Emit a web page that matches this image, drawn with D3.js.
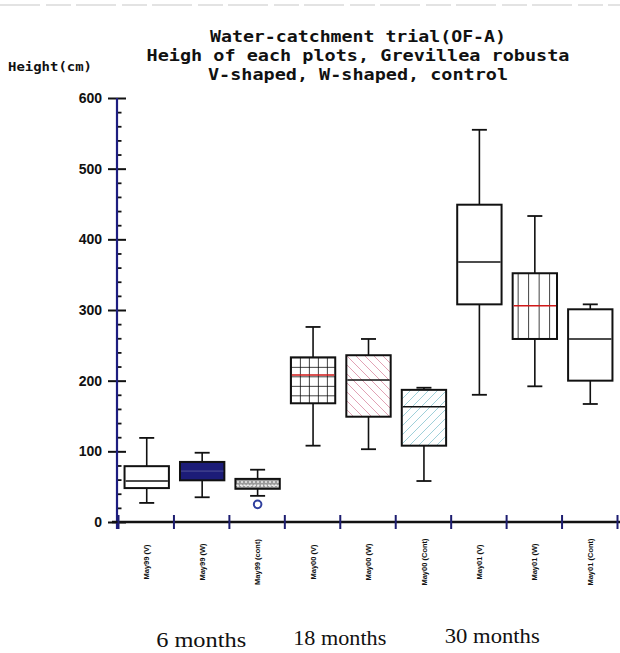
<!DOCTYPE html>
<html>
<head>
<meta charset="utf-8">
<script src="https://cdn.jsdelivr.net/npm/d3@7"></script>
<style>
  body { margin: 0; background: #fff; }
  svg { display: block; }
</style>
</head>
<body>
<svg id="chart" width="620" height="653"></svg>
<script>
// values (cm)
var categories = ["May99 (V)", "May99 (W)", "May99 (cont)",
                  "May00 (V)", "May00 (W)", "May00 (Cont)",
                  "May01 (V)", "May01 (W)", "May01 (Cont)"]
var whiskerLow  = [27, 35, 37, 108, 103, 58, 180, 192, 167]
var q1          = [48, 59, 47, 168, 149, 108, 308, 259, 200]
var median      = [58, 72, 52, 208, 201, 163, 368, 306, 259]
var q3          = [79, 85, 61, 233, 236, 187, 449, 352, 301]
var whiskerHigh = [119, 98, 74, 276, 259, 190, 555, 433, 308]
var outliers    = [{cat: "May99 (cont)", value: 25}]
var yTicks = [0, 100, 200, 300, 400, 500, 600]
var months = ["6 months", "18 months", "30 months"]
var monthAt = [1.5, 4, 6.75]   // in category units along the x axis

var titleLines = ["Water-catchment trial(OF-A)",
                  "Heigh of each plots, Grevillea robusta",
                  "V-shaped, W-shaped, control"]

var svg = d3.select("#chart")

var x = d3.scaleBand().domain(categories).range([118, 617]).padding(0)
var xi = d3.scaleLinear().domain([0, categories.length]).range([118, 617])
var y = d3.scaleLinear().domain([0, 600]).range([522, 98])

var boxW = x.bandwidth() * 0.8
var boxes = categories.map((c, i) => ({
    cat: c, lo: whiskerLow[i], q1: q1[i], med: median[i], q3: q3[i], hi: whiskerHigh[i], i: i
}))

// scan artefact along the top edge
svg.append("line").attr("x1", 0).attr("x2", 620).attr("y1", 5).attr("y2", 5)
    .attr("stroke", "#c8c8c8").attr("stroke-width", 1.2).attr("stroke-dasharray", "40,6,25,5")

// ---- patterns (one per box so they line up with the box corner)
var defs = svg.append("defs")
function boxX(d) { return x(d.cat) + (x.bandwidth() - boxW) / 2 + 1 }

function grid(id, d) {
    var p = defs.append("pattern").attr("id", id).attr("patternUnits", "userSpaceOnUse")
        .attr("x", boxX(d)).attr("y", y(d.q3)).attr("width", 9).attr("height", 9.5)
    p.append("rect").attr("width", 9).attr("height", 9.5).attr("fill", "#fff")
    p.append("line").attr("x1", 0).attr("x2", 0).attr("y1", 0).attr("y2", 9.5).attr("stroke", "#111").attr("stroke-width", 1.6)
    p.append("line").attr("x1", 0).attr("x2", 9).attr("y1", 0).attr("y2", 0).attr("stroke", "#111").attr("stroke-width", 1.6)
}
function vlines(id, d) {
    var p = defs.append("pattern").attr("id", id).attr("patternUnits", "userSpaceOnUse")
        .attr("x", boxX(d) + 5).attr("y", 0).attr("width", 10.5).attr("height", 10)
    p.append("rect").attr("width", 10.5).attr("height", 10).attr("fill", "#fff")
    p.append("line").attr("x1", 0).attr("x2", 0).attr("y1", 0).attr("y2", 10).attr("stroke", "#111").attr("stroke-width", 1.6)
}
function hatch(id, color, dir) {
    var p = defs.append("pattern").attr("id", id).attr("patternUnits", "userSpaceOnUse")
        .attr("width", 9).attr("height", 9)
    p.append("rect").attr("width", 9).attr("height", 9).attr("fill", "#fff")
    if (dir > 0) {
        p.append("path").attr("d", "M-1,10 L10,-1 M-3,3 L3,-3 M6,12 L12,6")
    } else {
        p.append("path").attr("d", "M-1,-1 L10,10 M-3,6 L3,12 M6,-3 L12,3")
    }
    p.select("path").attr("stroke", color).attr("stroke-width", 0.8)
}
function dots(id) {
    var p = defs.append("pattern").attr("id", id).attr("patternUnits", "userSpaceOnUse")
        .attr("width", 4).attr("height", 4)
    p.append("rect").attr("width", 4).attr("height", 4).attr("fill", "#9a9a9a")
    p.append("circle").attr("cx", 2).attr("cy", 2).attr("r", 0.9).attr("fill", "#f4f4f4")
}
grid("pGrid", boxes[3])
vlines("pVert", boxes[7])
hatch("pPink", "#d98aa2", -1)
hatch("pCyan", "#86c4cf", 1)
dots("pDots")

var fills = ["#fff", "#1c1c78", "url(#pDots)", "url(#pGrid)", "url(#pPink)",
             "url(#pCyan)", "#fff", "url(#pVert)", "#fff"]
var medColor = ["#111", "#3a3a8a", "#eee", "#d01818", "#111", "#111", "#111", "#d01818", "#111"]

// ---- boxes
var g = svg.append("g")
var box = g.selectAll("g.box").data(boxes).enter().append("g").attr("class", "box")

function cx(cat) { return x(cat) + x.bandwidth() / 2 + 1 }

box.append("line")
    .attr("x1", d => cx(d.cat)).attr("x2", d => cx(d.cat))
    .attr("y1", d => y(d.hi)).attr("y2", d => y(d.lo))
    .attr("stroke", "#111").attr("stroke-width", 1.6)

box.selectAll("line.cap").data(d => [d.hi, d.lo].map(v => ({cat: d.cat, v: v}))).enter()
    .append("line").attr("class", "cap")
    .attr("x1", d => cx(d.cat) - 7.5).attr("x2", d => cx(d.cat) + 7.5)
    .attr("y1", d => y(d.v)).attr("y2", d => y(d.v))
    .attr("stroke", "#111").attr("stroke-width", 1.8)

box.append("rect")
    .attr("x", boxX).attr("width", boxW)
    .attr("y", d => y(d.q3)).attr("height", d => y(d.q1) - y(d.q3))
    .attr("fill", d => fills[d.i])
    .attr("stroke", "#111").attr("stroke-width", 2)

box.append("line")
    .attr("x1", d => boxX(d) + 1).attr("x2", d => boxX(d) + boxW - 1)
    .attr("y1", d => y(d.med)).attr("y2", d => y(d.med))
    .attr("stroke", d => medColor[d.i]).attr("stroke-width", d => d.i == 2 ? 1.5 : 1.6)
    .attr("stroke-dasharray", d => d.i == 2 ? "2,1.5" : null)

g.selectAll("circle.out").data(outliers).enter().append("circle").attr("class", "out")
    .attr("cx", d => cx(d.cat)).attr("cy", d => y(d.value))
    .attr("r", 3.8).attr("fill", "#fff").attr("stroke", "#2f3f9e").attr("stroke-width", 2)

// ---- y axis
var axisY = d3.axisLeft(y).tickValues(yTicks).tickSize(9).tickPadding(6)
var gy = svg.append("g").attr("transform", "translate(117,0)").call(axisY)
gy.select(".domain").remove()
gy.selectAll(".tick line").attr("x2", 9).attr("x1", -9).attr("stroke", "#111").attr("stroke-width", 2)
gy.selectAll(".tick text").attr("font-family", "'Liberation Sans Narrow', 'Liberation Sans', sans-serif")
    .attr("font-weight", "bold").attr("font-size", 14).attr("fill", "#111")

var minor = d3.range(0, 601, 20).filter(v => v % 100 != 0)
var gm = svg.append("g").attr("transform", "translate(117,0)")
    .call(d3.axisRight(y).tickValues(minor).tickSize(4.5).tickFormat(""))
gm.select(".domain").remove()
gm.selectAll(".tick line").attr("stroke", "#111").attr("stroke-width", 1.8)

svg.append("line").attr("x1", 117).attr("x2", 117).attr("y1", y(600)).attr("y2", 529)
    .attr("stroke", "#1d1d80").attr("stroke-width", 2.2)

// ---- x axis
svg.append("line").attr("x1", 112).attr("x2", 620).attr("y1", 522).attr("y2", 522)
    .attr("stroke", "#111").attr("stroke-width", 2.4)

var gb = svg.append("g").attr("transform", "translate(0,522)")
    .call(d3.axisBottom(xi).tickValues(d3.range(0, categories.length + 1)).tickSize(7).tickFormat(""))
gb.select(".domain").remove()
gb.selectAll(".tick line").attr("y1", -7).attr("stroke", "#1d1d70").attr("stroke-width", 2)

var gx = svg.append("g").attr("transform", "translate(1,522)")
    .call(d3.axisBottom(x).tickSize(0))
gx.select(".domain").remove()
gx.selectAll(".tick text")
    .attr("transform", "translate(0,40) rotate(-90)")
    .attr("y", 0).attr("dy", "0.35em").attr("text-anchor", "middle")
    .attr("font-family", "'Liberation Sans Narrow', 'Liberation Sans', sans-serif")
    .attr("font-weight", "bold").attr("font-size", 7.5).attr("fill", "#111")

// ---- titles
var titleW = [296, 423, 300]
svg.selectAll("text.title").data(titleLines).enter().append("text").attr("class", "title")
    .attr("x", 358).attr("y", (d, i) => 42 + i * 19)
    .attr("text-anchor", "middle")
    .attr("textLength", (d, i) => titleW[i]).attr("lengthAdjust", "spacingAndGlyphs")
    .attr("font-family", "'DejaVu Sans Mono', monospace").attr("font-weight", "bold")
    .attr("font-size", 15.5).attr("fill", "#111")
    .text(d => d)

svg.append("text").attr("x", 8).attr("y", 71)
    .attr("textLength", 84).attr("lengthAdjust", "spacingAndGlyphs")
    .attr("font-family", "'DejaVu Sans Mono', monospace").attr("font-weight", "bold")
    .attr("font-size", 12).attr("fill", "#111")
    .text("Height(cm)")

svg.selectAll("text.month").data(months).enter().append("text").attr("class", "month")
    .attr("x", (d, i) => xi(monthAt[i])).attr("y", (d, i) => [647, 645, 643][i])
    .attr("text-anchor", "middle")
    .attr("font-family", "'Liberation Serif', 'DejaVu Serif', serif")
    .attr("font-size", 21).attr("fill", "#111")
    .attr("textLength", (d, i) => [90, 93, 95][i]).attr("lengthAdjust", "spacingAndGlyphs")
    .text(d => d)
</script>
</body>
</html>
